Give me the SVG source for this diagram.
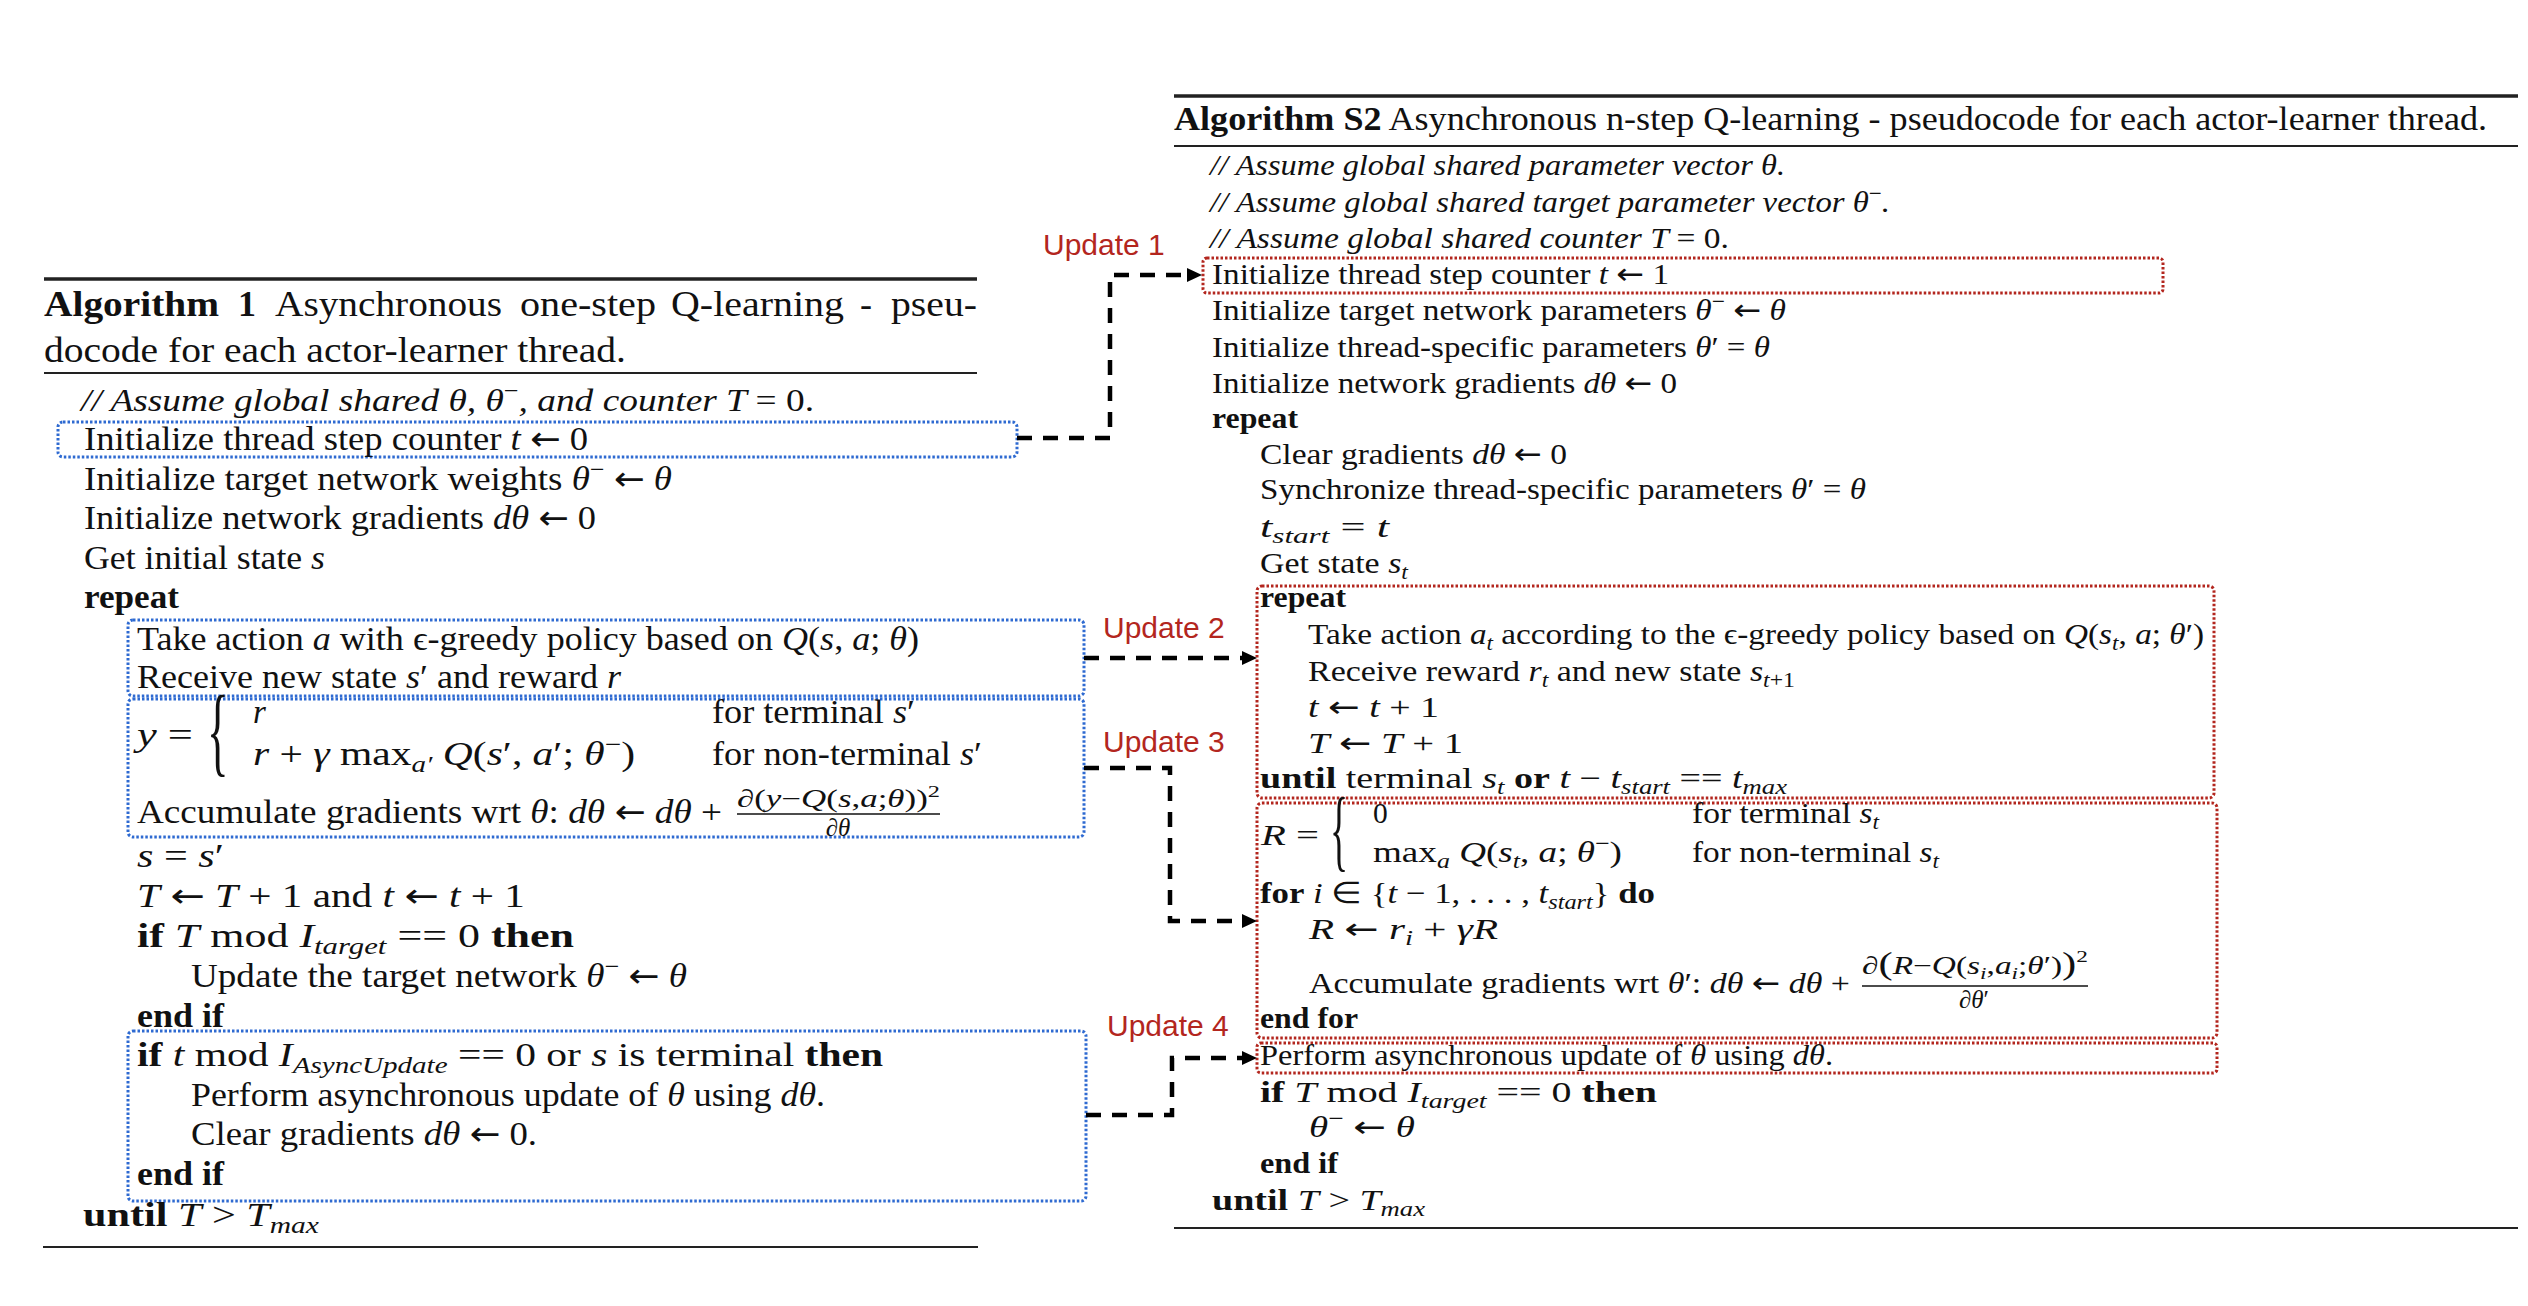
<svg xmlns="http://www.w3.org/2000/svg" width="2528" height="1306" viewBox="0 0 2528 1306">
<defs>
<style>
text{font-family:"Liberation Serif","Times New Roman",serif;fill:#111}
.L{font-size:33px}
.R{font-size:29.5px}
.TL{font-size:36px}
.TR{font-size:33px}
.F{font-size:25px}
.i{font-style:italic}
.n{font-style:normal}
.b{font-weight:bold}
.s{font-size:70%}
.ar{font-family:"DejaVu Sans",sans-serif;font-style:normal;font-weight:normal}
.rule{stroke:#222;stroke-width:2}
.thick{stroke:#222;stroke-width:3.5}
.bbox{fill:none;stroke:#2E6AD1;stroke-width:3;stroke-dasharray:2.5 2}
.rbox{fill:none;stroke:#B3261E;stroke-width:3;stroke-dasharray:2.5 2}
.conn{fill:none;stroke:#000;stroke-width:4.5;stroke-dasharray:15 11}
.lbl{font-family:"Liberation Sans",Arial,sans-serif;font-size:30px;fill:#B3261E}
.bar{stroke:#111;stroke-width:1.6}
.brL{font-size:100px;font-weight:normal}
.brR{font-size:90px;font-weight:normal}
</style>
<marker id="ah" markerUnits="userSpaceOnUse" markerWidth="16" markerHeight="16" viewBox="0 0 16 16" refX="2" refY="8" orient="auto"><path d="M0,1 L15,8 L0,15 z" fill="#000"/></marker>
</defs>
<rect width="2528" height="1306" fill="#fff"/>

<g id="alg1">
<line class="thick" x1="44" y1="279" x2="977" y2="279"/>
<text class="TL b" x="44" y="316" textLength="175" lengthAdjust="spacingAndGlyphs">Algorithm</text>
<text class="TL b" x="238" y="316">1</text>
<text class="TL" x="275" y="316" textLength="227" lengthAdjust="spacingAndGlyphs">Asynchronous</text>
<text class="TL" x="520" y="316" textLength="136" lengthAdjust="spacingAndGlyphs">one-step</text>
<text class="TL" x="671" y="316" textLength="173" lengthAdjust="spacingAndGlyphs">Q-learning</text>
<text class="TL" x="860" y="316">-</text>
<text class="TL" x="891" y="316" textLength="86" lengthAdjust="spacingAndGlyphs">pseu-</text>
<text class="TL" x="44" y="362" textLength="582" lengthAdjust="spacingAndGlyphs">docode for each actor-learner thread.</text>
<line class="rule" x1="44" y1="373" x2="977" y2="373"/>
<text class="L i" x="81" y="411" textLength="733" lengthAdjust="spacingAndGlyphs" style="font-size:32px">// Assume global shared θ, θ<tspan class="s n" dy="-13">−</tspan><tspan dy="13">, and counter T </tspan><tspan class="n">= 0.</tspan></text>

<g id="L-init-counter">
<rect class="bbox" x="58" y="422" width="959" height="35" rx="5"/>
<text class="L" x="84" y="450" textLength="504" lengthAdjust="spacingAndGlyphs">Initialize thread step counter <tspan class="i">t</tspan> <tspan class="ar">←</tspan> 0</text>
</g>
<text class="L" x="84" y="490" textLength="588" lengthAdjust="spacingAndGlyphs">Initialize target network weights <tspan class="i">θ</tspan><tspan class="s" dy="-13">−</tspan><tspan dy="13"> </tspan><tspan class="ar">←</tspan> <tspan class="i">θ</tspan></text>
<text class="L" x="84" y="529" textLength="512" lengthAdjust="spacingAndGlyphs">Initialize network gradients <tspan class="i">dθ</tspan> <tspan class="ar">←</tspan> 0</text>
<text class="L" x="84" y="569" textLength="241" lengthAdjust="spacingAndGlyphs">Get initial state <tspan class="i">s</tspan></text>
<text class="L b" x="84" y="608" textLength="95" lengthAdjust="spacingAndGlyphs">repeat</text>

<g id="L-act">
<rect class="bbox" x="128" y="620" width="956" height="76" rx="5"/>
<text class="L" x="137" y="650" textLength="782" lengthAdjust="spacingAndGlyphs">Take action <tspan class="i">a</tspan> with ϵ-greedy policy based on <tspan class="i">Q</tspan>(<tspan class="i">s</tspan>, <tspan class="i">a</tspan>; <tspan class="i">θ</tspan>)</text>
<text class="L" x="137" y="688" textLength="484" lengthAdjust="spacingAndGlyphs">Receive new state <tspan class="i">s</tspan>′ and reward <tspan class="i">r</tspan></text>
</g>

<g id="L-target">
<rect class="bbox" x="128" y="699" width="956" height="138" rx="5"/>
<text class="L" x="137" y="746" textLength="56" lengthAdjust="spacingAndGlyphs"><tspan class="i">y</tspan> =</text>
<text class="brL" transform="translate(207 764) scale(0.45 1)">{</text>
<text class="L i" x="253" y="723">r</text>
<text class="L" x="712" y="723" textLength="203" lengthAdjust="spacingAndGlyphs">for terminal <tspan class="i">s</tspan>′</text>
<text class="L" x="253" y="765" textLength="382" lengthAdjust="spacingAndGlyphs"><tspan class="i">r</tspan> + <tspan class="i">γ</tspan> max<tspan class="s i" dy="7">a′</tspan><tspan dy="-7"> </tspan><tspan class="i">Q</tspan>(<tspan class="i">s</tspan>′, <tspan class="i">a</tspan>′; <tspan class="i">θ</tspan><tspan class="s" dy="-13">−</tspan><tspan dy="13">)</tspan></text>
<text class="L" x="712" y="765" textLength="270" lengthAdjust="spacingAndGlyphs">for non-terminal <tspan class="i">s</tspan>′</text>
<text class="L" x="137" y="823" textLength="585" lengthAdjust="spacingAndGlyphs">Accumulate gradients wrt <tspan class="i">θ</tspan>: <tspan class="i">dθ</tspan> <tspan class="ar">←</tspan> <tspan class="i">dθ</tspan> +</text>
<text class="F" x="737" y="807" textLength="203" lengthAdjust="spacingAndGlyphs">∂(<tspan class="i">y</tspan>−<tspan class="i">Q</tspan>(<tspan class="i">s</tspan>,<tspan class="i">a</tspan>;<tspan class="i">θ</tspan>))<tspan class="s" dy="-10">2</tspan></text>
<line class="bar" x1="737" y1="814" x2="940" y2="814"/>
<text class="F" x="838" y="836" text-anchor="middle">∂<tspan class="i">θ</tspan></text>
</g>

<text class="L" x="137" y="867" textLength="87" lengthAdjust="spacingAndGlyphs"><tspan class="i">s</tspan> = <tspan class="i">s</tspan>′</text>
<text class="L" x="137" y="907" textLength="388" lengthAdjust="spacingAndGlyphs"><tspan class="i">T</tspan> <tspan class="ar">←</tspan> <tspan class="i">T</tspan> + 1 and <tspan class="i">t</tspan> <tspan class="ar">←</tspan> <tspan class="i">t</tspan> + 1</text>
<text class="L" x="137" y="947" textLength="437" lengthAdjust="spacingAndGlyphs"><tspan class="b">if</tspan> <tspan class="i">T</tspan>  mod <tspan class="i">I</tspan><tspan class="s i" dy="7">target</tspan><tspan dy="-7"> == 0 </tspan><tspan class="b">then</tspan></text>
<text class="L" x="191" y="987" textLength="496" lengthAdjust="spacingAndGlyphs">Update the target network <tspan class="i">θ</tspan><tspan class="s" dy="-13">−</tspan><tspan dy="13"> </tspan><tspan class="ar">←</tspan> <tspan class="i">θ</tspan></text>
<text class="L b" x="137" y="1027" textLength="87" lengthAdjust="spacingAndGlyphs">end if</text>

<g id="L-async">
<rect class="bbox" x="128" y="1031" width="958" height="170" rx="5"/>
<text class="L" x="137" y="1066" textLength="746" lengthAdjust="spacingAndGlyphs"><tspan class="b">if</tspan> <tspan class="i">t</tspan>  mod <tspan class="i">I</tspan><tspan class="s i" dy="7">AsyncUpdate</tspan><tspan dy="-7"> == 0 or </tspan><tspan class="i">s</tspan> is terminal <tspan class="b">then</tspan></text>
<text class="L" x="191" y="1106" textLength="634" lengthAdjust="spacingAndGlyphs">Perform asynchronous update of <tspan class="i">θ</tspan> using <tspan class="i">dθ</tspan>.</text>
<text class="L" x="191" y="1145" textLength="346" lengthAdjust="spacingAndGlyphs">Clear gradients <tspan class="i">dθ</tspan> <tspan class="ar">←</tspan> 0.</text>
<text class="L b" x="137" y="1185" textLength="87" lengthAdjust="spacingAndGlyphs">end if</text>
</g>
<text class="L" x="83" y="1226" textLength="236" lengthAdjust="spacingAndGlyphs"><tspan class="b">until</tspan> <tspan class="i">T</tspan> &gt; <tspan class="i">T</tspan><tspan class="s i" dy="7">max</tspan></text>
<line class="rule" x1="43" y1="1247" x2="978" y2="1247"/>
</g>

<g id="algS2">
<line class="thick" x1="1174" y1="96" x2="2518" y2="96"/>
<text class="TR" x="1174" y="130" textLength="1313" lengthAdjust="spacingAndGlyphs"><tspan class="b">Algorithm S2</tspan> Asynchronous n-step Q-learning - pseudocode for each actor-learner thread.</text>
<line class="rule" x1="1174" y1="146" x2="2518" y2="146"/>
<text class="R i" x="1210" y="175" textLength="575" lengthAdjust="spacingAndGlyphs">// Assume global shared parameter vector θ.</text>
<text class="R i" x="1210" y="212" textLength="680" lengthAdjust="spacingAndGlyphs">// Assume global shared target parameter vector θ<tspan class="s n" dy="-12">−</tspan><tspan dy="12">.</tspan></text>
<text class="R i" x="1210" y="248" textLength="519" lengthAdjust="spacingAndGlyphs">// Assume global shared counter T <tspan class="n">= 0.</tspan></text>

<g id="R-init-counter">
<rect class="rbox" x="1203" y="258" width="960" height="35" rx="4"/>
<text class="R" x="1212" y="284" textLength="457" lengthAdjust="spacingAndGlyphs">Initialize thread step counter <tspan class="i">t</tspan> <tspan class="ar">←</tspan> 1</text>
</g>
<text class="R" x="1212" y="320" textLength="574" lengthAdjust="spacingAndGlyphs">Initialize target network parameters <tspan class="i">θ</tspan><tspan class="s" dy="-12">−</tspan><tspan dy="12"> </tspan><tspan class="ar">←</tspan> <tspan class="i">θ</tspan></text>
<text class="R" x="1212" y="357" textLength="558" lengthAdjust="spacingAndGlyphs">Initialize thread-specific parameters <tspan class="i">θ</tspan>′ = <tspan class="i">θ</tspan></text>
<text class="R" x="1212" y="393" textLength="465" lengthAdjust="spacingAndGlyphs">Initialize network gradients <tspan class="i">dθ</tspan> <tspan class="ar">←</tspan> 0</text>
<text class="R b" x="1212" y="428" textLength="86" lengthAdjust="spacingAndGlyphs">repeat</text>
<text class="R" x="1260" y="464" textLength="307" lengthAdjust="spacingAndGlyphs">Clear gradients <tspan class="i">dθ</tspan> <tspan class="ar">←</tspan> 0</text>
<text class="R" x="1260" y="499" textLength="606" lengthAdjust="spacingAndGlyphs">Synchronize thread-specific parameters <tspan class="i">θ</tspan>′ = <tspan class="i">θ</tspan></text>
<text class="R" x="1260" y="537" textLength="129" lengthAdjust="spacingAndGlyphs"><tspan class="i">t</tspan><tspan class="s i" dy="6">start</tspan><tspan dy="-6"> = </tspan><tspan class="i">t</tspan></text>
<text class="R" x="1260" y="573" textLength="148" lengthAdjust="spacingAndGlyphs">Get state <tspan class="i">s</tspan><tspan class="s i" dy="6">t</tspan></text>

<g id="R-inner-loop">
<rect class="rbox" x="1257" y="586" width="957" height="212" rx="5"/>
<text class="R b" x="1260" y="607" textLength="86" lengthAdjust="spacingAndGlyphs">repeat</text>
<text class="R" x="1308" y="644" textLength="896" lengthAdjust="spacingAndGlyphs">Take action <tspan class="i">a</tspan><tspan class="s i" dy="6">t</tspan><tspan dy="-6"> according to the ϵ-greedy policy based on </tspan><tspan class="i">Q</tspan>(<tspan class="i">s</tspan><tspan class="s i" dy="6">t</tspan><tspan dy="-6">, </tspan><tspan class="i">a</tspan>; <tspan class="i">θ</tspan>′)</text>
<text class="R" x="1308" y="681" textLength="487" lengthAdjust="spacingAndGlyphs">Receive reward <tspan class="i">r</tspan><tspan class="s i" dy="6">t</tspan><tspan dy="-6"> and new state </tspan><tspan class="i">s</tspan><tspan class="s i" dy="6">t</tspan><tspan class="s">+1</tspan></text>
<text class="R" x="1308" y="717" textLength="131" lengthAdjust="spacingAndGlyphs"><tspan class="i">t</tspan> <tspan class="ar">←</tspan> <tspan class="i">t</tspan> + 1</text>
<text class="R" x="1308" y="753" textLength="155" lengthAdjust="spacingAndGlyphs"><tspan class="i">T</tspan> <tspan class="ar">←</tspan> <tspan class="i">T</tspan> + 1</text>
<text class="R" x="1260" y="788" textLength="527" lengthAdjust="spacingAndGlyphs"><tspan class="b">until</tspan> terminal <tspan class="i">s</tspan><tspan class="s i" dy="6">t</tspan><tspan dy="-6"> </tspan><tspan class="b">or</tspan> <tspan class="i">t</tspan> − <tspan class="i">t</tspan><tspan class="s i" dy="6">start</tspan><tspan dy="-6"> == </tspan><tspan class="i">t</tspan><tspan class="s i" dy="6">max</tspan></text>
</g>

<g id="R-accumulate">
<rect class="rbox" x="1257" y="803" width="960" height="235" rx="5"/>
<text class="R" x="1261" y="845" textLength="58" lengthAdjust="spacingAndGlyphs"><tspan class="i">R</tspan> =</text>
<text class="brR" transform="translate(1330 860) scale(0.42 1)">{</text>
<text class="R" x="1373" y="823">0</text>
<text class="R" x="1692" y="823" textLength="187" lengthAdjust="spacingAndGlyphs">for terminal <tspan class="i">s</tspan><tspan class="s i" dy="6">t</tspan></text>
<text class="R" x="1373" y="862" textLength="249" lengthAdjust="spacingAndGlyphs">max<tspan class="s i" dy="6">a</tspan><tspan dy="-6"> </tspan><tspan class="i">Q</tspan>(<tspan class="i">s</tspan><tspan class="s i" dy="6">t</tspan><tspan dy="-6">, </tspan><tspan class="i">a</tspan>; <tspan class="i">θ</tspan><tspan class="s" dy="-12">−</tspan><tspan dy="12">)</tspan></text>
<text class="R" x="1692" y="862" textLength="247" lengthAdjust="spacingAndGlyphs">for non-terminal <tspan class="i">s</tspan><tspan class="s i" dy="6">t</tspan></text>
<text class="R" x="1260" y="903" textLength="395" lengthAdjust="spacingAndGlyphs"><tspan class="b">for</tspan> <tspan class="i">i</tspan> ∈ {<tspan class="i">t</tspan> − 1, . . . , <tspan class="i">t</tspan><tspan class="s i" dy="6">start</tspan><tspan dy="-6">} </tspan><tspan class="b">do</tspan></text>
<text class="R" x="1309" y="939" textLength="189" lengthAdjust="spacingAndGlyphs"><tspan class="i">R</tspan> <tspan class="ar">←</tspan> <tspan class="i">r</tspan><tspan class="s i" dy="6">i</tspan><tspan dy="-6"> + </tspan><tspan class="i">γR</tspan></text>
<text class="R" x="1309" y="993" textLength="541" lengthAdjust="spacingAndGlyphs">Accumulate gradients wrt <tspan class="i">θ</tspan>′: <tspan class="i">dθ</tspan> <tspan class="ar">←</tspan> <tspan class="i">dθ</tspan> +</text>
<text class="F" x="1862" y="974" textLength="226" lengthAdjust="spacingAndGlyphs">∂<tspan style="font-size:32px">(</tspan><tspan class="i">R</tspan>−<tspan class="i">Q</tspan>(<tspan class="i">s</tspan><tspan class="s i" dy="5">i</tspan><tspan dy="-5">,</tspan><tspan class="i">a</tspan><tspan class="s i" dy="5">i</tspan><tspan dy="-5">;</tspan><tspan class="i">θ</tspan>′)<tspan style="font-size:32px">)</tspan><tspan class="s" dy="-12">2</tspan></text>
<line class="bar" x1="1862" y1="986" x2="2088" y2="986"/>
<text class="F" x="1974" y="1008" text-anchor="middle">∂<tspan class="i">θ</tspan>′</text>
<text class="R b" x="1260" y="1028" textLength="98" lengthAdjust="spacingAndGlyphs">end for</text>
</g>

<g id="R-async">
<rect class="rbox" x="1257" y="1043" width="960" height="30" rx="4"/>
<text class="R" x="1260" y="1065" textLength="573" lengthAdjust="spacingAndGlyphs">Perform asynchronous update of <tspan class="i">θ</tspan> using <tspan class="i">dθ</tspan>.</text>
</g>
<text class="R" x="1260" y="1102" textLength="397" lengthAdjust="spacingAndGlyphs"><tspan class="b">if</tspan> <tspan class="i">T</tspan>  mod <tspan class="i">I</tspan><tspan class="s i" dy="6">target</tspan><tspan dy="-6"> == 0 </tspan><tspan class="b">then</tspan></text>
<text class="R" x="1309" y="1137" textLength="106" lengthAdjust="spacingAndGlyphs"><tspan class="i">θ</tspan><tspan class="s" dy="-12">−</tspan><tspan dy="12"> </tspan><tspan class="ar">←</tspan> <tspan class="i">θ</tspan></text>
<text class="R b" x="1260" y="1173" textLength="78" lengthAdjust="spacingAndGlyphs">end if</text>
<text class="R" x="1212" y="1210" textLength="213" lengthAdjust="spacingAndGlyphs"><tspan class="b">until</tspan> <tspan class="i">T</tspan> &gt; <tspan class="i">T</tspan><tspan class="s i" dy="6">max</tspan></text>
<line class="rule" x1="1174" y1="1228" x2="2518" y2="1228"/>
</g>

<g id="connectors">
<path class="conn" d="M1017,438 H1110 V275 H1189" marker-end="url(#ah)"/>
<path class="conn" d="M1084,658 H1244" marker-end="url(#ah)"/>
<path class="conn" d="M1084,768 H1170 V921 H1244" marker-end="url(#ah)"/>
<path class="conn" d="M1086,1115 H1172 V1058 H1244" marker-end="url(#ah)"/>
<text class="lbl" x="1043" y="255">Update 1</text>
<text class="lbl" x="1103" y="638">Update 2</text>
<text class="lbl" x="1103" y="752">Update 3</text>
<text class="lbl" x="1107" y="1036">Update 4</text>
</g>
</svg>
